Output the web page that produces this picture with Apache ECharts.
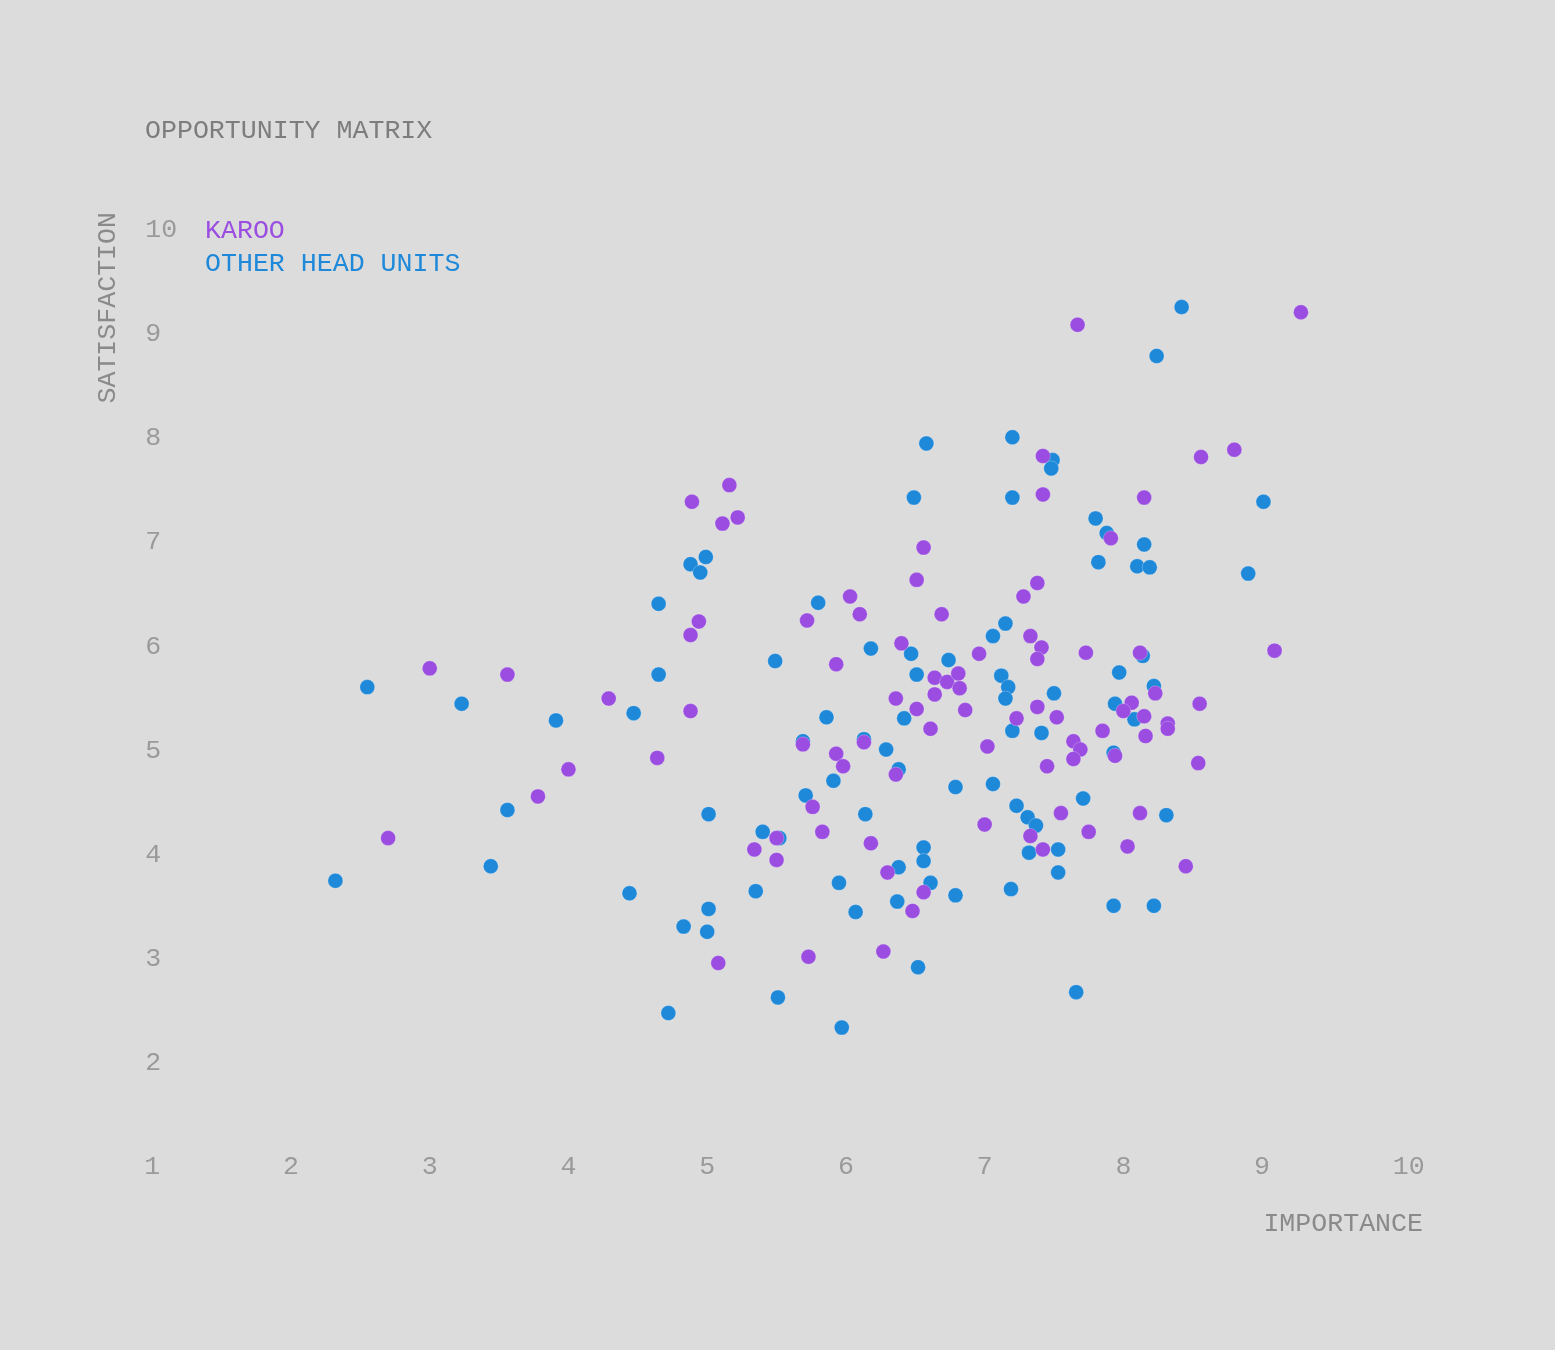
<!DOCTYPE html>
<html>
<head>
<meta charset="utf-8">
<script src="https://cdn.jsdelivr.net/npm/echarts@6/dist/echarts.min.js"></script>
<style>
html,body{margin:0;padding:0;background:#dcdcdc;}
#chart{width:1555px;height:1350px;}
</style>
</head>
<body>
<div id="chart"></div>
<script>
const titleText = 'OPPORTUNITY MATRIX';
const xAxisName = 'IMPORTANCE';
const yAxisName = 'SATISFACTION';
const seriesNames = ['KAROO', 'OTHER HEAD UNITS'];
const axisMin = 1;
const axisMax = 10;
const axisStep = 1;

// [importance, satisfaction]
const karoo = [
  [7.67,9.09],[9.28,9.21],[8.80,7.89],[8.56,7.82],[7.42,7.83],[7.42,7.46],[8.15,7.43],
  [5.16,7.55],[4.89,7.39],[5.22,7.24],[5.11,7.18],[7.91,7.04],[6.56,6.95],[6.51,6.64],
  [7.38,6.61],[7.28,6.48],[6.03,6.48],[6.69,6.31],[6.10,6.31],[5.72,6.25],[4.94,6.24],
  [4.88,6.11],[7.33,6.10],[6.40,6.03],[7.41,5.99],[9.09,5.96],[6.96,5.93],[7.73,5.94],
  [8.12,5.94],[7.38,5.88],[5.93,5.83],[3.00,5.79],[3.56,5.73],[6.64,5.70],[6.73,5.66],
  [6.81,5.74],[6.82,5.60],[6.64,5.54],[6.36,5.50],[4.29,5.50],[8.23,5.55],[8.55,5.45],
  [8.06,5.46],[8.00,5.38],[6.51,5.40],[6.86,5.39],[7.38,5.42],[4.88,5.38],[8.15,5.33],
  [7.23,5.31],[7.52,5.32],[8.32,5.26],[8.32,5.21],[7.85,5.19],[6.61,5.21],[8.16,5.14],
  [6.13,5.08],[5.69,5.06],[7.02,5.04],[7.64,5.09],[7.69,5.01],[5.93,4.97],[7.94,4.95],
  [4.64,4.93],[7.64,4.92],[5.98,4.85],[7.45,4.85],[8.54,4.88],[4.00,4.82],[6.36,4.77],
  [3.78,4.56],[5.76,4.46],[7.55,4.40],[8.12,4.40],[7.00,4.29],[5.83,4.22],[7.75,4.22],
  [7.33,4.18],[2.70,4.16],[5.50,4.16],[6.18,4.11],[5.34,4.05],[7.42,4.05],[8.03,4.08],
  [5.50,3.95],[8.45,3.89],[6.30,3.83],[6.56,3.64],[6.48,3.46],[6.27,3.07],[5.73,3.02],
  [5.08,2.96]
];

const otherUnits = [
  [8.42,9.26],[8.24,8.79],[6.58,7.95],[7.20,8.01],[7.49,7.79],[7.48,7.71],[6.49,7.43],
  [7.20,7.43],[9.01,7.39],[7.80,7.23],[7.88,7.09],[8.15,6.98],[4.99,6.86],[4.88,6.79],
  [4.95,6.71],[7.82,6.81],[8.10,6.77],[8.19,6.76],[8.90,6.70],[4.65,6.41],[5.80,6.42],
  [7.15,6.22],[7.06,6.10],[6.18,5.98],[6.47,5.93],[8.14,5.91],[5.49,5.86],[6.74,5.87],
  [7.97,5.75],[4.65,5.73],[6.51,5.73],[7.12,5.72],[7.17,5.61],[2.55,5.61],[8.22,5.62],
  [7.50,5.55],[7.15,5.50],[7.94,5.45],[3.23,5.45],[4.47,5.36],[3.91,5.29],[5.86,5.32],
  [6.42,5.31],[8.08,5.30],[7.20,5.19],[7.41,5.17],[6.13,5.11],[5.69,5.09],[6.29,5.01],
  [7.93,4.98],[6.38,4.82],[5.91,4.71],[6.79,4.65],[7.06,4.68],[5.71,4.57],[7.71,4.54],
  [3.56,4.43],[5.01,4.39],[7.23,4.47],[6.14,4.39],[7.31,4.36],[7.37,4.28],[8.31,4.38],
  [5.40,4.22],[5.52,4.16],[6.56,4.07],[7.53,4.05],[7.32,4.02],[6.56,3.94],[3.44,3.89],
  [6.38,3.88],[7.53,3.83],[2.32,3.75],[6.61,3.73],[5.95,3.73],[7.19,3.67],[5.35,3.65],
  [4.44,3.63],[6.79,3.61],[6.37,3.55],[5.01,3.48],[7.93,3.51],[8.22,3.51],[6.07,3.45],
  [4.83,3.31],[5.00,3.26],[6.52,2.92],[7.66,2.68],[5.51,2.63],[4.72,2.48],[5.97,2.34]
];

const purple = '#9a4de0';
const blue = '#1e88d9';
const FONT = '"Liberation Mono", "DejaVu Sans Mono", monospace';
const FS = 26.6;
const tickColor = '#9a9a9a';

const chart = echarts.init(document.getElementById('chart'), null, {renderer:'canvas'});

const option = {
  backgroundColor: '#dcdcdc',
  animation: false,
  title: {
    text: titleText,
    left: 145,
    top: 117,
    padding: 0,
    textStyle: {fontFamily: FONT, fontSize: FS, fontWeight: 'normal', color: '#7d7d7d'}
  },
  legend: {
    orient: 'vertical',
    left: 200,
    top: 217,
    padding: 0,
    icon: 'none',
    itemWidth: 0,
    itemHeight: 0,
    itemGap: 6,
    selectedMode: false,
    textStyle: {fontFamily: FONT, fontSize: FS},
    data: [
      {name: seriesNames[0], textStyle: {color: purple}},
      {name: seriesNames[1], textStyle: {color: blue}}
    ]
  },
  grid: {left: 152.3, right: 154.2, top: 230, bottom: 182.9, containLabel: false},
  xAxis: {
    type: 'value', min: axisMin, max: axisMax, interval: axisStep,
    axisLine: {show: false}, axisTick: {show: false}, splitLine: {show: false},
    axisLabel: {
      margin: 0, verticalAlign: 'middle', align: 'center',
      fontFamily: FONT, fontSize: FS, color: tickColor,
      formatter: function (v) { return v === 10 ? '{a|10}' : String(v); },
      rich: {a: {padding: [0, 0, 0, 16], fontFamily: FONT, fontSize: FS, color: tickColor}}
    }
  },
  yAxis: {
    type: 'value', min: axisMin, max: axisMax, interval: axisStep,
    axisLine: {show: false}, axisTick: {show: false}, splitLine: {show: false},
    axisLabel: {
      margin: 7, align: 'left', showMinLabel: false,
      fontFamily: FONT, fontSize: FS, color: tickColor
    }
  },
  graphic: [
    {
      type: 'text', x: 108, y: 212, rotation: Math.PI / 2,
      style: {text: yAxisName, fontFamily: FONT, fontSize: FS, fill: '#8a8a8a', align: 'right', verticalAlign: 'middle'}
    },
    {
      type: 'text', x: 1423, y: 1224,
      style: {text: xAxisName, fontFamily: FONT, fontSize: FS, fill: '#8a8a8a', align: 'right', verticalAlign: 'middle'}
    }
  ],
  series: [
    {
      name: seriesNames[1], type: 'scatter', data: otherUnits, symbolSize: 15, z: 2,
      itemStyle: {color: blue, opacity: 1, borderColor: 'rgba(255,255,255,0.25)', borderWidth: 1},
      emphasis: {disabled: true}
    },
    {
      name: seriesNames[0], type: 'scatter', data: karoo, symbolSize: 15, z: 3,
      itemStyle: {color: purple, opacity: 1, borderColor: 'rgba(255,255,255,0.25)', borderWidth: 1},
      emphasis: {disabled: true}
    }
  ]
};
chart.setOption(option);
</script>
</body>
</html>
